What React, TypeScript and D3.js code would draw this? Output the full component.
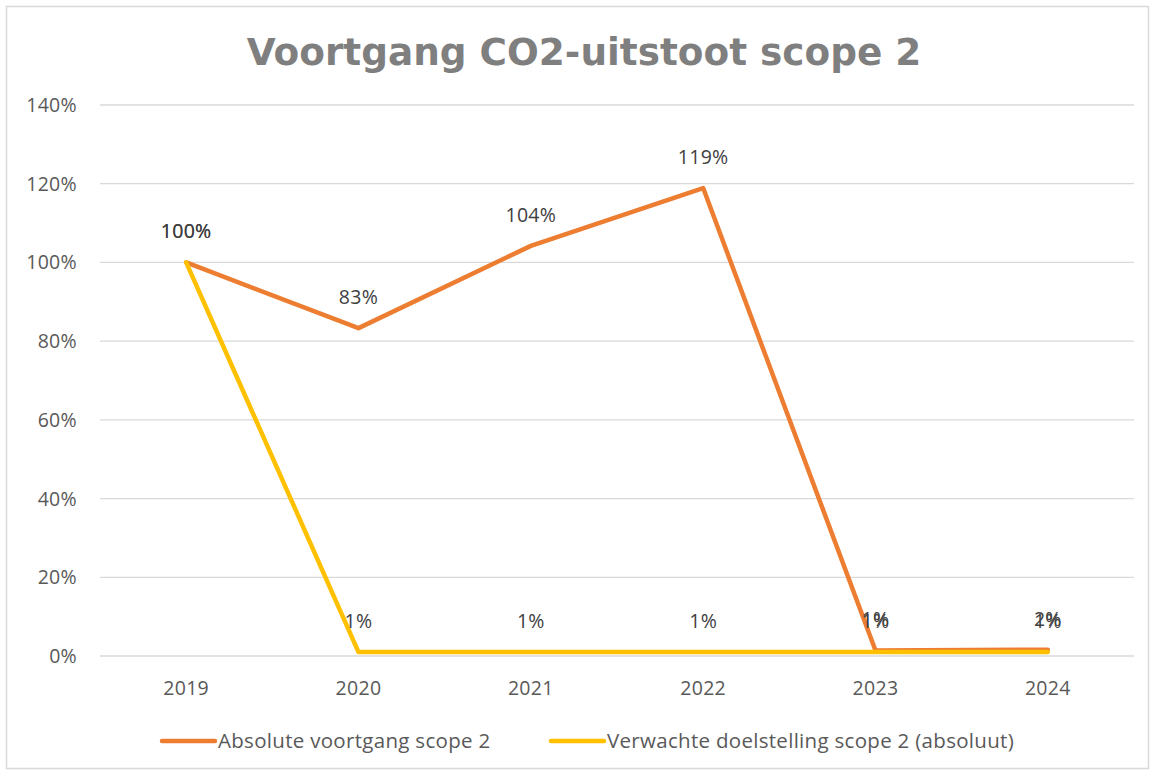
import React from "react";
import * as d3 from "d3";

const years = ["2019", "2020", "2021", "2022", "2023", "2024"];
const absolute = [1.0, 0.833, 1.042, 1.189, 0.014, 0.016];
const target = [1.0, 0.01, 0.01, 0.01, 0.01, 0.01];
const yTicks = [0, 0.2, 0.4, 0.6, 0.8, 1.0, 1.2, 1.4];
const seriesNames = ["Absolute voortgang scope 2", "Verwachte doelstelling scope 2 (absoluut)"];
const colors = ["#ED7D31", "#FFC000"];

export default function App() {
  const W = 1155, H = 774;
  const left = 100, right = 1134, top = 105, bottom = 656;
  const x = d3.scalePoint<string>().domain(years).range([left, right]).padding(0.5);
  const y = d3.scaleLinear().domain([0, 1.4]).range([bottom, top]);
  const line = d3.line<number>().x((_, i) => x(years[i])!).y((d) => y(d));
  const fmt = d3.format(".0%");
  const font = "'Open Sans', 'Noto Sans', sans-serif";
  const series = [absolute, target];
  return (
    <svg width={W} height={H} style={{ position: "absolute", left: 0, top: 0 }} fontFamily={font}>
      <rect x={6.5} y={6.5} width={1142} height={762} fill="#fff" stroke="#d9d9d9" strokeWidth={1.5} />
      <text x={584} y={65} textAnchor="middle" fontSize={37.4} fontWeight="bold" fill="#7f7f7f" fontFamily="'DejaVu Sans', sans-serif">
        Voortgang CO2-uitstoot scope 2
      </text>
      {yTicks.map((t) => (
        <g key={t}>
          <line x1={left} x2={right} y1={y(t)} y2={y(t)} stroke="#d9d9d9" strokeWidth={1.3} />
          <text x={77} y={y(t) + 7} textAnchor="end" fontSize={19.5} letterSpacing={0.3} fill="#595959">{fmt(t)}</text>
        </g>
      ))}
      {years.map((yr) => (
        <text key={yr} x={x(yr)} y={695} textAnchor="middle" fontSize={19.5} letterSpacing={0.3} fill="#595959">{yr}</text>
      ))}
      {series.map((s, k) => (
        <path key={k} d={line(s)!} fill="none" stroke={colors[k]} strokeWidth={4.5} strokeLinecap="round" strokeLinejoin="round" />
      ))}
      {series.map((s, k) =>
        s.map((v, i) => (
          <text key={k + "-" + i} x={x(years[i])} y={y(v) - 24} textAnchor="middle" fontSize={19.5} letterSpacing={0.3} fill="#404040">{fmt(v)}</text>
        ))
      )}
      {seriesNames.map((n, k) => {
        const lx = k === 0 ? 162 : 551;
        return (
          <g key={n}>
            <line x1={lx} x2={lx + 53} y1={741} y2={741} stroke={colors[k]} strokeWidth={4.5} strokeLinecap="round" />
            <text x={lx + 56} y={748} fontSize={20.5} letterSpacing={0.3} fill="#595959">{n}</text>
          </g>
        );
      })}
    </svg>
  );
}
